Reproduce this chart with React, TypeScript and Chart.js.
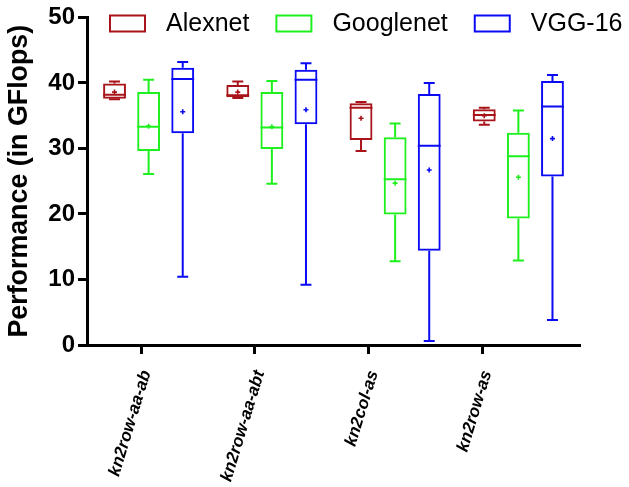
import React, { useEffect, useRef } from 'react';
import { Chart, registerables } from 'chart.js';

Chart.register(...registerables);

// ---- Data ----
const categories = ['kn2row-aa-ab', 'kn2row-aa-abt', 'kn2col-as', 'kn2row-as'];
const seriesNames = ['Alexnet', 'Googlenet', 'VGG-16'];
const seriesColors = ['#A8141A', '#1EF01E', '#0A0AF5'];

const alexMin = [37.5, 37.7, 29.6, 33.6];
const alexQ1 = [37.6, 37.8, 31.3, 34.1];
const alexMedian = [38.2, 38.1, 36.2, 35.1];
const alexQ3 = [39.9, 39.7, 36.9, 36.0];
const alexMax = [40.2, 40.2, 37.1, 36.2];
const alexMean = [38.6, 38.6, 34.6, 35.0];

const googMin = [26.1, 24.6, 12.8, 12.9];
const googQ1 = [29.6, 29.9, 19.9, 19.3];
const googMedian = [33.3, 33.2, 25.3, 28.8];
const googQ3 = [38.6, 38.6, 31.7, 32.4];
const googMax = [40.5, 40.3, 33.8, 35.8];
const googMean = [33.4, 33.3, 24.7, 25.6];

const vggMin = [10.4, 9.2, 0.6, 3.8];
const vggQ1 = [32.3, 33.7, 14.4, 25.7];
const vggMedian = [40.6, 40.5, 30.4, 36.4];
const vggQ3 = [42.3, 42.0, 38.3, 40.3];
const vggMax = [43.2, 43.0, 40.0, 41.2];
const vggMean = [35.6, 35.9, 26.7, 31.5];

const yTicks = [0, 10, 20, 30, 40, 50];

const allStats = [
  { min: alexMin, q1: alexQ1, median: alexMedian, q3: alexQ3, max: alexMax, mean: alexMean },
  { min: googMin, q1: googQ1, median: googMedian, q3: googQ3, max: googMax, mean: googMean },
  { min: vggMin, q1: vggQ1, median: vggMedian, q3: vggQ3, max: vggMax, mean: vggMean },
];

// layout constants for the (offset) category ticks
const TICK_START = 0.44;
const TICK_STEP = 0.922;

const FONT = "'Liberation Sans', Arial, Helvetica, sans-serif";

const boxPlugin = {
  id: 'boxWhiskers',
  afterDatasetsDraw(chart: any) {
    const ctx = chart.ctx;
    const ys = chart.scales.y;
    chart.data.datasets.forEach((ds: any, di: number) => {
      const meta = chart.getDatasetMeta(di);
      const st = ds.stats;
      meta.data.forEach((el: any, j: number) => {
        const { x, width } = el.getProps(['x', 'width'], true);
        const pMin = ys.getPixelForValue(st.min[j]);
        const pQ1 = ys.getPixelForValue(st.q1[j]);
        const pMed = ys.getPixelForValue(st.median[j]);
        const pQ3 = ys.getPixelForValue(st.q3[j]);
        const pMax = ys.getPixelForValue(st.max[j]);
        const pMean = ys.getPixelForValue(st.mean[j]);
        const cap = width * 0.24;
        ctx.save();
        ctx.strokeStyle = ds.borderColor;
        ctx.lineWidth = 2;
        ctx.lineCap = 'butt';
        ctx.beginPath();
        ctx.moveTo(x, pQ3);
        ctx.lineTo(x, pMax);
        ctx.moveTo(x - cap, pMax);
        ctx.lineTo(x + cap, pMax);
        ctx.moveTo(x, pQ1);
        ctx.lineTo(x, pMin);
        ctx.moveTo(x - cap, pMin);
        ctx.lineTo(x + cap, pMin);
        ctx.moveTo(x - width / 2, pMed);
        ctx.lineTo(x + width / 2, pMed);
        ctx.stroke();
        ctx.lineWidth = 1.6;
        ctx.beginPath();
        ctx.moveTo(x - 2.5, pMean);
        ctx.lineTo(x + 2.5, pMean);
        ctx.moveTo(x, pMean - 2.5);
        ctx.lineTo(x, pMean + 2.5);
        ctx.stroke();
        ctx.restore();
      });
    });
  },
};

const legendPlugin = {
  id: 'customLegend',
  afterDraw(chart: any) {
    const ctx = chart.ctx;
    ctx.save();
    ctx.font = `25px ${FONT}`;
    ctx.textBaseline = 'middle';
    ctx.textAlign = 'left';
    let x = 110;
    const yMid = 23.5;
    chart.data.datasets.forEach((ds: any) => {
      ctx.strokeStyle = ds.borderColor;
      ctx.lineWidth = 2;
      ctx.strokeRect(x, yMid - 8, 35, 16);
      x += 35 + 21;
      ctx.fillStyle = '#000';
      ctx.fillText(ds.label, x, yMid + 1);
      x += ctx.measureText(ds.label).width + 27;
    });
    ctx.restore();
  },
};

export default function App() {
  const ref = useRef<HTMLCanvasElement>(null);

  useEffect(() => {
    if (!ref.current) return;
    const datasets = seriesNames.map((name, i) => ({
      label: name,
      data: allStats[i].q1.map((v, j) => [v, allStats[i].q3[j]]),
      stats: allStats[i],
      borderColor: seriesColors[i],
      backgroundColor: 'rgba(255,255,255,0)',
      borderWidth: 2,
      borderSkipped: false,
      categoryPercentage: 0.83,
      barPercentage: 0.67,
      xAxisID: 'x',
    }));

    const chart = new Chart(ref.current, {
      type: 'bar',
      data: { labels: categories, datasets: datasets as any },
      plugins: [boxPlugin, legendPlugin],
      options: {
        animation: false,
        responsive: false,
        devicePixelRatio: 1,
        layout: { padding: { top: 15, right: 49, bottom: 0, left: 0 } },
        plugins: {
          legend: { display: false },
          tooltip: { enabled: false },
          title: { display: false },
        },
        scales: {
          x: {
            type: 'category',
            display: false,
            offset: true,
          },
          xt: {
            type: 'linear',
            position: 'bottom',
            min: 0,
            max: 4,
            offset: false,
            bounds: 'data',
            afterBuildTicks: (scale: any) => {
              scale.ticks = categories.map((_, i) => ({ value: TICK_START + i * TICK_STEP }));
            },
            afterFit: (scale: any) => {
              scale.height = 142;
            },
            grid: {
              display: true,
              offset: false,
              drawOnChartArea: false,
              drawTicks: true,
              tickLength: 9,
              tickWidth: 3,
              color: '#000',
            },
            border: { display: true, color: '#000', width: 3 },
            ticks: {
              autoSkip: false,
              minRotation: 73,
              maxRotation: 73,
              padding: 14,
              labelOffset: 5,
              color: '#000',
              font: { family: FONT, size: 17, weight: 'bold', style: 'italic' },
              callback: (_v: any, i: number) => categories[i],
            },
          },
          y: {
            type: 'linear',
            min: 0,
            max: 50,
            afterBuildTicks: (scale: any) => {
              scale.ticks = yTicks.map((v) => ({ value: v }));
            },
            afterFit: (scale: any) => {
              scale.width = 87;
            },
            grid: {
              display: true,
              drawOnChartArea: false,
              drawTicks: true,
              tickLength: 9,
              tickWidth: 3,
              color: '#000',
            },
            border: { display: true, color: '#000', width: 3 },
            ticks: {
              padding: 3,
              color: '#000',
              font: { family: FONT, size: 24, weight: 'bold' },
            },
            title: {
              display: true,
              text: 'Performance (in GFlops)',
              color: '#000',
              padding: { top: 4, bottom: 0 },
              font: { family: FONT, size: 26.8, weight: 'bold' },
            },
          },
        },
      } as any,
    });
    return () => chart.destroy();
  }, []);

  return (
    <div style={{ position: 'absolute', left: 0, top: 0, width: 629, height: 487 }}>
      <canvas ref={ref} width={629} height={487} style={{ display: 'block' }} />
    </div>
  );
}
